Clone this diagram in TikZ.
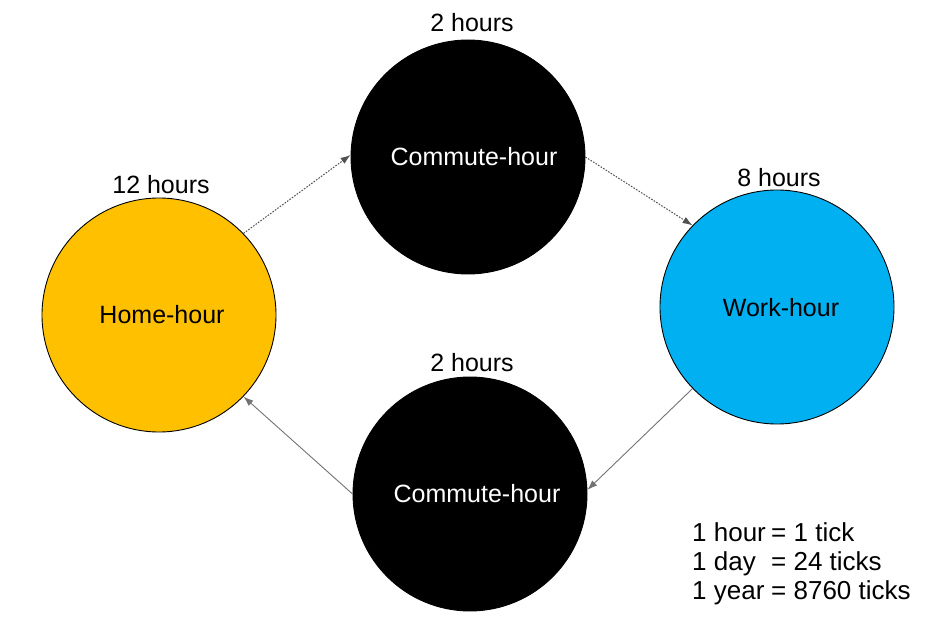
\documentclass[tikz,border=0pt]{standalone}
\usepackage{fontspec}
\setmainfont{Liberation Sans}
\usetikzlibrary{arrows.meta}
\definecolor{homeyel}{HTML}{FFC000}
\definecolor{workblue}{HTML}{00B0F0}
\definecolor{lineg}{HTML}{505050}
\tikzset{
  state/.style={circle, draw=black, line width=0.9pt, minimum size=234pt, inner sep=0pt,
    font=\fontsize{25}{30}\selectfont},
  lbl/.style={font=\fontsize{25}{30}\selectfont, inner sep=0pt},
  legend/.style={font=\fontsize{26}{30}\selectfont, inner sep=0pt, anchor=base west},
  dotconn/.style={draw=lineg, line width=1pt, dash pattern=on 1.6pt off 1.4pt, -{Latex[length=10pt,width=7pt]}},
  solconn/.style={draw=lineg!80, line width=0.9pt, -{Latex[length=10pt,width=7pt]}},
}
\begin{document}
\begin{tikzpicture}[x=1pt,y=-1pt]
\useasboundingbox (0,0) rectangle (942,644);
\node[state, fill=homeyel] (home) at (159,315) {};
\node[lbl] (hometxt) at (162,315) {Home-hour};
\node[state, fill=black] (ctop) at (468,157) {};
\node[lbl, text=white] (ctoptxt) at (474,157) {Commute-hour};
\node[state, fill=workblue] (work) at (777,307) {};
\node[lbl] (worktxt) at (781,308) {Work-hour};
\node[state, fill=black] (cbot) at (470,494) {};
\node[lbl, text=white] (cbottxt) at (477,494) {Commute-hour};

\node[lbl] (ltop) at (472,23) {2 hours};
\node[lbl] (lhome) at (161,185) {12 hours};
\node[lbl] (lwork) at (779,178) {8 hours};
\node[lbl] (lbot) at (472,363) {2 hours};

\node[legend] (k1a) at (692,541) {1 hour};
\node[legend] (k1b) at (771,541) {= 1 tick};
\node[legend] (k2a) at (692,570) {1 day};
\node[legend] (k2b) at (771,570) {= 24 ticks};
\node[legend] (k3a) at (692,599) {1 year};
\node[legend] (k3b) at (771,599) {= 8760 ticks};

\draw[dotconn] (home.44.7) -- (ctop.179);
\draw[dotconn] (ctop.-0.5) -- (work.136.4);
\draw[solconn] (work.224.7) -- (cbot.2);
\draw[solconn] (cbot.180) -- (home.-44);
\end{tikzpicture}
\end{document}
